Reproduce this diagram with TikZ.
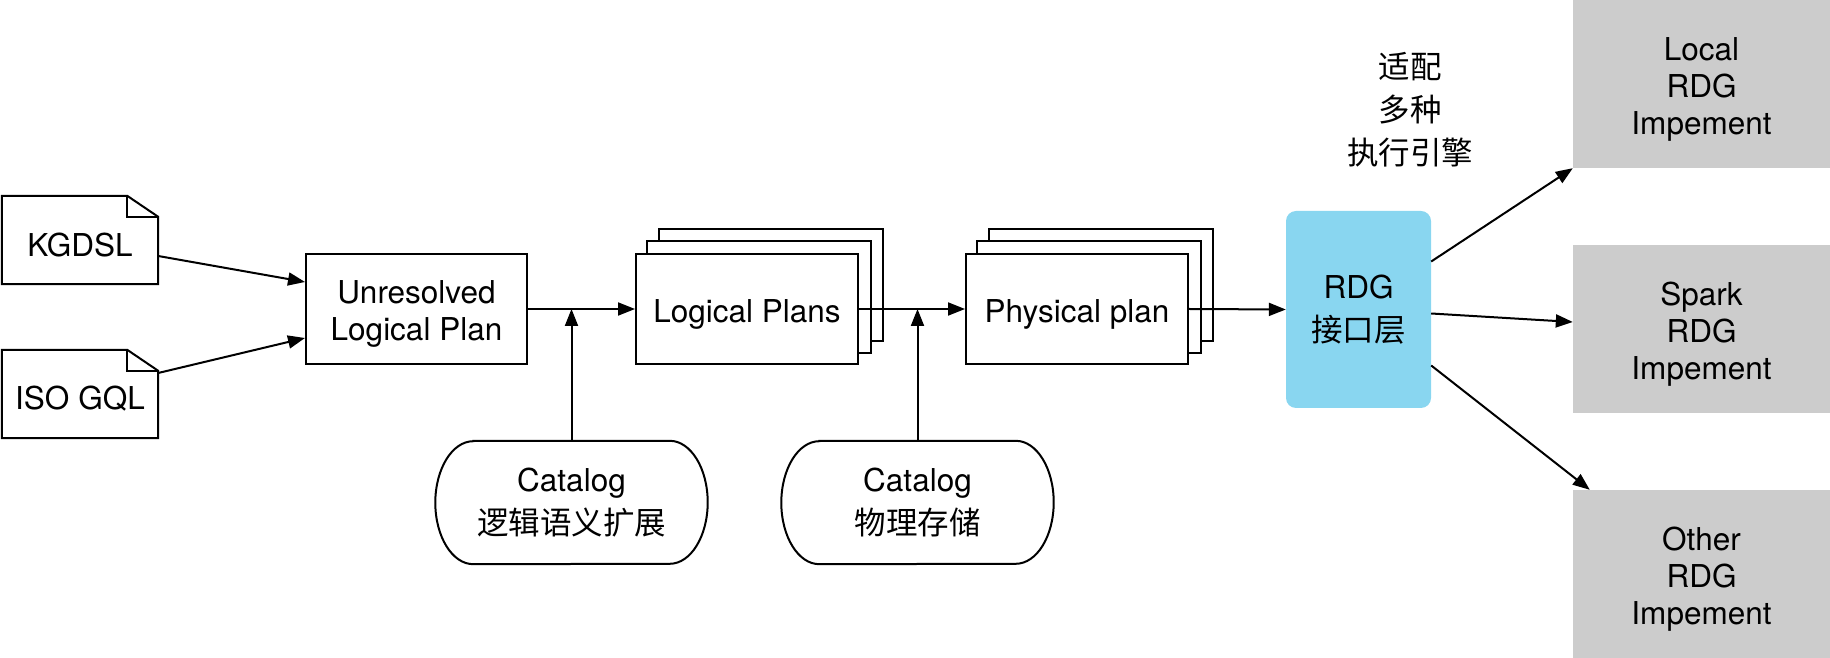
\documentclass[tikz,border=0pt]{standalone}
\usepackage{fontspec}
\setmainfont{TeX Gyre Heros}
\newfontfamily\cjk{Noto Sans CJK SC}
\usetikzlibrary{arrows.meta,backgrounds}
\definecolor{rdgblue}{RGB}{137,214,240}
\definecolor{implgray}{RGB}{204,204,204}
\newcommand\dnstrut{\rule{0pt}{33.5pt}}
\begin{document}
\begin{tikzpicture}[x=1pt,y=1pt,
  base/.style={font=\fontsize{31.5}{37}\selectfont, align=center, inner sep=0pt},
  cjkbase/.style={base, font=\fontsize{31.5}{43}\selectfont},
  line/.style={line width=2pt, draw=black},
  box/.style={base, line, fill=white, minimum width=222pt, minimum height=110pt},
  notebox/.style={base, minimum width=156pt, minimum height=88pt},
  termbox/.style={cjkbase, minimum width=272pt, minimum height=123pt},
  implbox/.style={base, fill=implgray, minimum width=257pt, minimum height=168pt},
  arr/.style={line width=2pt, -{Triangle[length=17pt,width=13pt]}}
]
\useasboundingbox (0,0) rectangle (1830,658);

% notes
\node[notebox] (kg) at (80,418) {\dnstrut KGDSL};
\node[notebox] (iso) at (80,264) {\dnstrut ISO GQL};
\foreach \n in {kg,iso} {
  \draw[line] (\n.south west) -- (\n.south east) -- ([yshift=-21pt]\n.north east)
    -- ([xshift=-31pt]\n.north east) -- (\n.north west) -- cycle;
  \draw[line] ([xshift=-31pt]\n.north east) -- ([xshift=-31pt,yshift=-21pt]\n.north east)
    -- ([yshift=-21pt]\n.north east);
}

% plans
\node[box, minimum width=221pt] (un) at (416.5,349) {\dnstrut Unresolved\\Logical Plan};
\node[box] (lp) at (747,349) {\dnstrut Logical Plans};
\node[box] (pp) at (1077,349) {\dnstrut Physical plan};
\begin{scope}[on background layer]
\foreach \n in {lp,pp} {
  \draw[line, fill=white] ([shift={(24pt,24pt)}]\n.south west) rectangle ([shift={(24pt,24pt)}]\n.north east);
  \draw[line, fill=white] ([shift={(12pt,12pt)}]\n.south west) rectangle ([shift={(12pt,12pt)}]\n.north east);
}
\end{scope}

% catalogs
\node[termbox] (c1) at (571.5,155.5) {Catalog\\{\cjk 逻辑语义扩展}};
\node[termbox] (c2) at (917.5,155.5) {Catalog\\{\cjk 物理存储}};
\foreach \n in {c1,c2} {
  \draw[line] ([xshift=38pt]\n.north west) -- ([xshift=-38pt]\n.north east)
    arc[start angle=90,end angle=-90,x radius=38pt,y radius=61.5pt]
    -- ([xshift=38pt]\n.south west)
    arc[start angle=270,end angle=90,x radius=38pt,y radius=61.5pt] -- cycle;
}

% RDG layer
\node[cjkbase, fill=rdgblue, rounded corners=10pt, minimum width=145pt, minimum height=197pt] (rdg) at (1358.5,348.5) {RDG\\{\cjk 接口层}};
\node[base, font=\cjk\fontsize{31.5}{43}\selectfont] (lbl) at (1410,548) {适配\\多种\\执行引擎};

% implementations
\node[implbox] (loc) at (1701.5,574) {\dnstrut Local\\RDG\\Impement};
\node[implbox] (spk) at (1701.5,329) {\dnstrut Spark\\RDG\\Impement};
\node[implbox] (oth) at (1701.5,84) {\dnstrut Other\\RDG\\Impement};

% connectors
\draw[arr] ([yshift=-16pt]kg.east) -- ([yshift=27pt]un.west);
\draw[arr] ([yshift=21pt]iso.east) -- ([yshift=-29pt]un.west);
\draw[arr] (un.east) -- (lp.west);
\draw[arr] (lp.east) -- (pp.west);
\draw[arr] (pp.east) -- (rdg.west);
\draw[arr] (c1.north) -- (c1.north |- un.east);
\draw[arr] (c2.north) -- (c2.north |- lp.east);
\draw[arr] ([yshift=48pt]rdg.east) -- (loc.south west);
\draw[arr] ([yshift=-4pt]rdg.east) -- ([yshift=7pt]spk.west);
\draw[arr] ([yshift=-56pt]rdg.east) -- ([xshift=17pt]oth.north west);
\end{tikzpicture}
\end{document}
